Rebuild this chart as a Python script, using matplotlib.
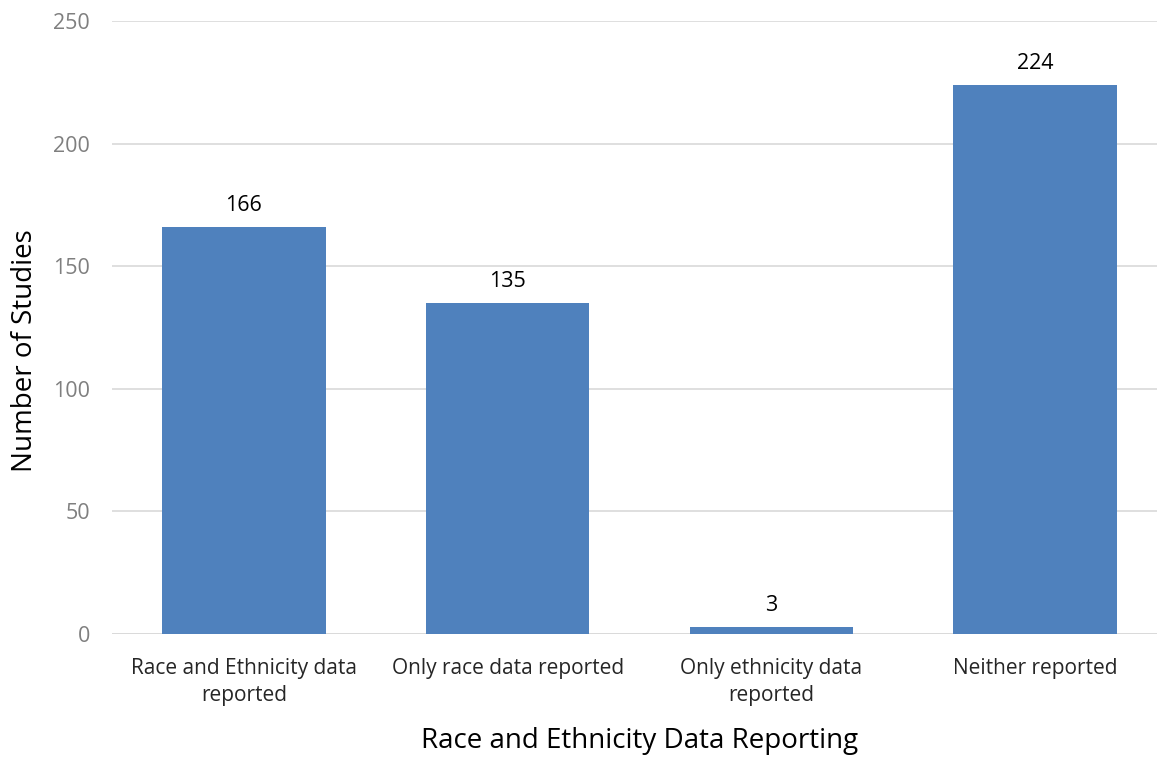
import matplotlib
matplotlib.use("Agg")
import matplotlib.pyplot as plt

categories = ["Race and Ethnicity data\nreported", "Only race data reported",
              "Only ethnicity data\nreported", "Neither reported"]
counts = [166, 135, 3, 224]
y_ticks = [0, 50, 100, 150, 200, 250]

plt.rcParams['font.family'] = ['Open Sans', 'DejaVu Sans']

fig = plt.figure(figsize=(11.57, 7.57), dpi=100)
ax = fig.add_axes([112 / 1157, 123 / 757, 1055 / 1157, 613 / 757])

x = range(len(categories))
bars = ax.bar(x, counts, width=0.62, color="#4F81BD", zorder=3)

for b, v in zip(bars, counts):
    ax.annotate(str(v), (b.get_x() + b.get_width() / 2, v),
                xytext=(0, 8), textcoords="offset points",
                ha="center", va="bottom", fontsize=15.5, color="black")

ax.set_xlim(-0.5, 3.5)
ax.set_ylim(0, 250)
ax.set_yticks(y_ticks)
ax.set_xticks(list(x))
ax.set_xticklabels(categories, fontsize=15, color="#262626", linespacing=1.4)
ax.tick_params(axis="y", labelsize=15.5, labelcolor="#7f7f7f", length=0, pad=16)
ax.tick_params(axis="x", length=0, pad=17)

ax.grid(axis="y", color="#d9d9d9", linewidth=1.2, zorder=0)
for s in ax.spines.values():
    s.set_visible(False)
ax.axhline(0, color="#d9d9d9", linewidth=1.2, zorder=2)

ax.set_ylabel("Number of Studies", fontsize=20, color="black", va="center")
ax.yaxis.set_label_coords(-0.0825, 0.462)
ax.set_xlabel("Race and Ethnicity Data Reporting", fontsize=20, color="black", va="center")
ax.xaxis.set_label_coords(0.5, -0.174)

fig.savefig("out.png", dpi=100)
